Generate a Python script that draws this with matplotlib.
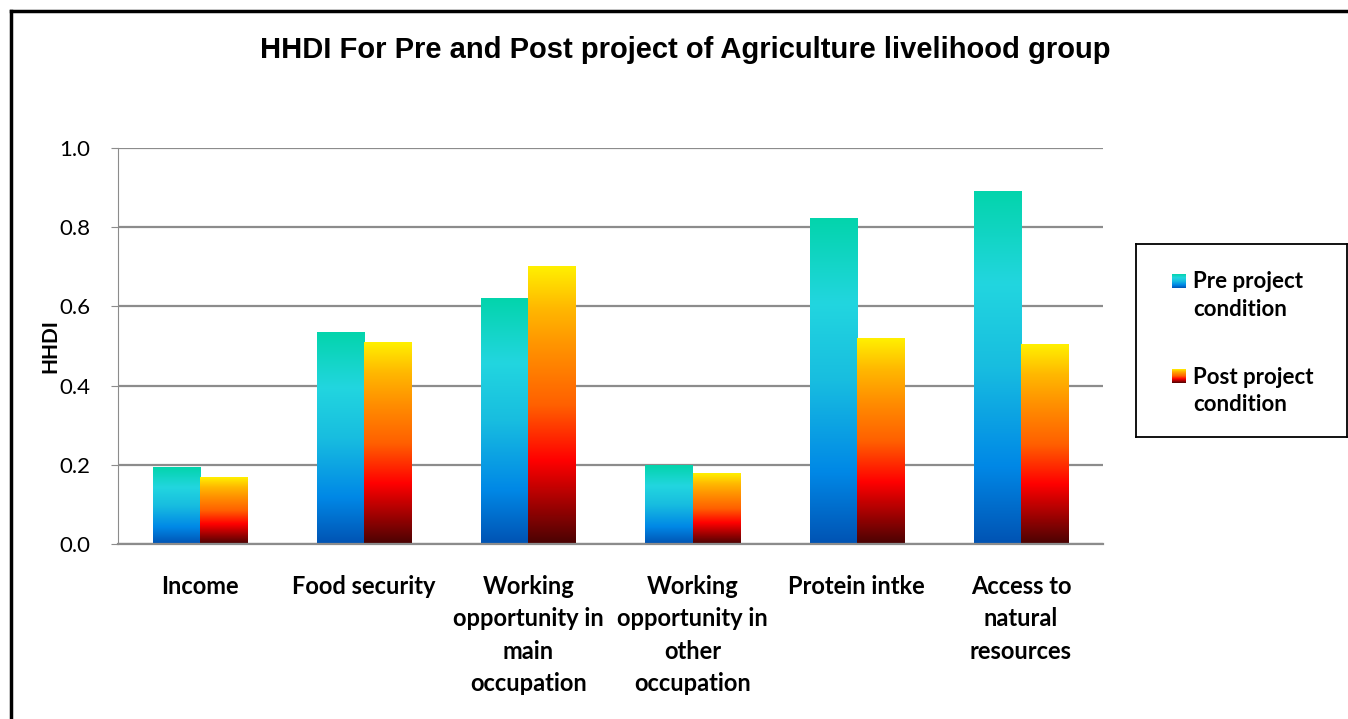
import numpy as np
import matplotlib
matplotlib.use("Agg")
import matplotlib.pyplot as plt
from matplotlib.colors import LinearSegmentedColormap
from matplotlib.lines import Line2D

# data
categories = ["Income", "Food security", "Working\nopportunity in\nmain\noccupation",
              "Working\nopportunity in\nother\noccupation", "Protein intke",
              "Access to\nnatural\nresources"]
pre_values = [0.194, 0.533, 0.621, 0.197, 0.823, 0.891]
post_values = [0.167, 0.510, 0.700, 0.179, 0.520, 0.503]
series_names = ["Pre project\ncondition", "Post project\ncondition"]
title = "HHDI For Pre and Post project of Agriculture livelihood group"

# gradients, bottom -> top
ocean = LinearSegmentedColormap.from_list(
    "ocean_grad", [(0.0, "#0053b3"), (0.22, "#0088e6"), (0.5, "#18bde0"),
                   (0.74, "#22d6df"), (1.0, "#03d4ac")])
fire = LinearSegmentedColormap.from_list(
    "fire_grad", [(0.0, "#4a0303"), (0.3, "#ff0000"), (0.5, "#ff6000"),
                  (0.7, "#ff9000"), (0.85, "#ffb800"), (1.0, "#fff000")])
grad = np.linspace(0, 1, 256).reshape(-1, 1)

label_font = ["Lato", "DejaVu Sans"]

fig = plt.figure(figsize=(13.48, 7.19), dpi=100)
ax = fig.add_axes([118 / 1348, 1 - 544 / 719, (1103 - 118) / 1348, (544 - 148) / 719])

x = np.arange(len(categories))
width = 0.287


def gradient_bars(xpos, values, cmap):
    bars = ax.bar(xpos, values, width, color="none", edgecolor="none")
    for rect in bars:
        x0, y0 = rect.get_x(), rect.get_y()
        ax.imshow(grad, cmap=cmap, origin="lower", aspect="auto",
                  extent=[x0, x0 + rect.get_width(), y0, y0 + rect.get_height()],
                  zorder=2, interpolation="bilinear")
    return bars


gradient_bars(x - width / 2, pre_values, ocean)
gradient_bars(x + width / 2, post_values, fire)

ax.set_xlim(-0.5, len(categories) - 0.5)
ax.set_ylim(0, 1.0)
ax.set_yticks(np.arange(0, 1.01, 0.2))
ax.set_yticklabels([f"{v:.1f}" for v in np.arange(0, 1.01, 0.2)],
                   family=label_font, fontsize=16)
ax.set_xticks(x)
ax.set_xticklabels(categories, family=label_font, fontsize=17, fontweight="bold",
                   linespacing=1.5, va="top")
ax.tick_params(axis="x", length=0, pad=22)
ax.tick_params(axis="y", length=5, color="#8c8c8c", pad=15)
ax.grid(axis="y", color="#8c8c8c", linewidth=1.6, zorder=0)
ax.set_axisbelow(True)
for side in ["top", "right"]:
    ax.spines[side].set_visible(False)
ax.spines["left"].set_color("#8c8c8c")
ax.spines["bottom"].set_color("#8c8c8c")
ax.spines["bottom"].set_linewidth(1.6)
ax.set_ylabel("HHDI", family=label_font, fontsize=15, fontweight="bold", labelpad=-1)

fig.text(685 / 1348, 1 - 50 / 719, title, ha="center", va="center",
         family=["Liberation Sans Narrow", "Liberation Sans"], fontsize=21,
         fontweight="bold")

# legend box drawn by hand so the swatches can carry the gradients
lax = fig.add_axes([1136 / 1348, 1 - 437 / 719, (1347 - 1136) / 1348, (437 - 244) / 719])
lax.set_xlim(0, 1)
lax.set_ylim(0, 1)
lax.set_xticks([])
lax.set_yticks([])
for sp in lax.spines.values():
    sp.set_color("black")
    sp.set_linewidth(1.3)
for cmap, name, yc in [(ocean, series_names[0], 0.81), (fire, series_names[1], 0.315)]:
    lax.imshow(grad, cmap=cmap, origin="lower", aspect="auto",
               extent=[0.17, 0.235, yc - 0.036, yc + 0.036])
    lax.text(0.27, yc + 0.05, name, family=label_font, fontsize=16, fontweight="bold",
             va="top", ha="left", linespacing=1.4)

# outer frame
x0, y0 = 11 / 1348, 1 - 11 / 719
fig.add_artist(Line2D([x0, x0], [0, y0], color="black", lw=2.5, transform=fig.transFigure))
fig.add_artist(Line2D([x0, 1], [y0, y0], color="black", lw=2.5, transform=fig.transFigure))

fig.savefig("out.png", dpi=100)
